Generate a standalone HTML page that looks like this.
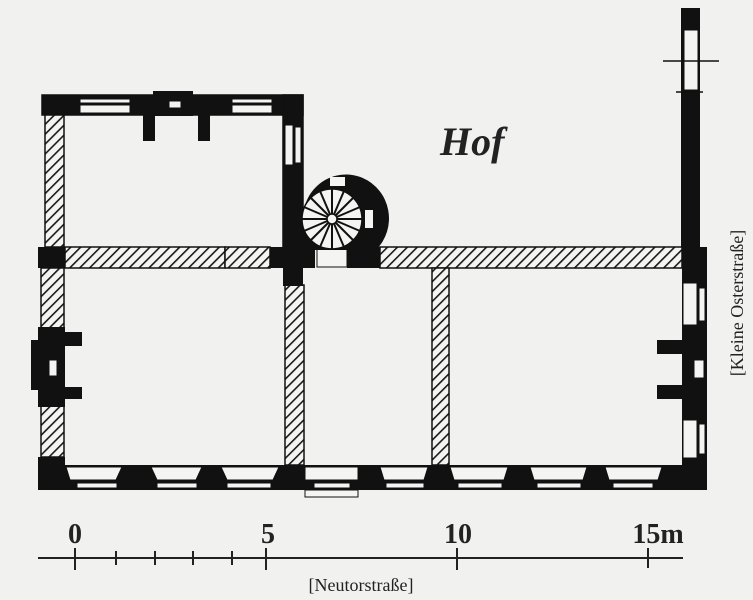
<!DOCTYPE html>
<html><head><meta charset="utf-8"><style>
html,body{margin:0;padding:0;background:#f1f1ef;}
svg{display:block}
</style></head><body>
<svg width="753" height="600" viewBox="0 0 753 600" xmlns="http://www.w3.org/2000/svg">
<defs>
<pattern id="h" patternUnits="userSpaceOnUse" width="7" height="7" patternTransform="rotate(45)">
<rect width="7" height="7" fill="#f4f4f2"/><rect x="0" y="0" width="1.6" height="7" fill="#1a1a1a"/>
</pattern>
</defs>
<rect width="753" height="600" fill="#f1f1ef"/>
<g stroke="#111" stroke-width="1.5">
<rect x="42" y="95" width="261" height="20" fill="#111"/>
<rect x="45" y="115" width="19" height="132" fill="url(#h)"/>
<rect x="283" y="95" width="20" height="152" fill="#111"/>
<rect x="65" y="247" width="160" height="21" fill="url(#h)"/>
<rect x="225" y="247" width="45" height="21" fill="url(#h)"/>
<rect x="380" y="247" width="302" height="21" fill="url(#h)"/>
<rect x="41" y="268" width="23" height="60" fill="url(#h)"/>
<rect x="41" y="405" width="23" height="52" fill="url(#h)"/>
<rect x="285" y="285" width="19" height="180" fill="url(#h)"/>
<rect x="432" y="268" width="17" height="197" fill="url(#h)"/>
</g>
<g fill="#111">
<rect x="38" y="247" width="27" height="21"/>
<rect x="270" y="247" width="45" height="21"/>
<rect x="283" y="268" width="20" height="18"/>
<rect x="347" y="247" width="33" height="21"/>
<rect x="38" y="327" width="27" height="80"/>
<rect x="31" y="340" width="10" height="50"/>
<rect x="64" y="332" width="18" height="14"/>
<rect x="64" y="387" width="18" height="12"/>
<rect x="38" y="457" width="27" height="33"/>
<rect x="38" y="465" width="669" height="25"/>
<rect x="681" y="8" width="19" height="239"/>
<rect x="682" y="247" width="25" height="243"/>
<rect x="657" y="340" width="26" height="14"/>
<rect x="657" y="385" width="26" height="14"/>
<rect x="153" y="91" width="40" height="25"/>
<rect x="143" y="110" width="12" height="31"/>
<rect x="198" y="110" width="12" height="31"/>
</g>
<g fill="#f4f4f2" stroke="#111" stroke-width="1">
<rect x="80" y="99" width="50" height="4"/><rect x="80" y="105" width="50" height="8"/>
<rect x="232" y="99" width="40" height="4"/><rect x="232" y="105" width="40" height="8"/>
<rect x="169" y="101" width="12" height="7"/>
<rect x="285" y="125" width="8" height="40"/><rect x="295" y="127" width="6" height="36"/>
<rect x="684" y="30" width="14" height="60"/>
<rect x="683" y="283" width="14" height="42"/><rect x="699" y="288" width="6" height="33"/>
<rect x="683" y="420" width="14" height="38"/><rect x="699" y="424" width="6" height="30"/>
<rect x="694" y="360" width="10" height="18"/>
<rect x="49" y="360" width="8" height="16"/>
<rect x="317" y="248" width="30" height="19"/>
<rect x="305" y="490" width="53" height="7"/>
</g>
<line x1="663" y1="61" x2="719" y2="61" stroke="#111" stroke-width="1.5"/>
<line x1="676" y1="92" x2="703" y2="92" stroke="#111" stroke-width="1.5"/>
<g fill="#f4f4f2" stroke="#111" stroke-width="1">
<path d="M66 467 H122 L116 480 H70 Z"/><rect x="77" y="483" width="40" height="5"/>
<path d="M151 467 H202 L196 480 H157 Z"/><rect x="157" y="483" width="40" height="5"/>
<path d="M221 467 H279 L273 480 H227 Z"/><rect x="227" y="483" width="44" height="5"/>
<path d="M305 467 H358 V480 H305 Z"/><rect x="314" y="483" width="36" height="5"/>
<path d="M380 467 H428 L424 480 H384 Z"/><rect x="386" y="483" width="38" height="5"/>
<path d="M450 467 H508 L504 480 H454 Z"/><rect x="458" y="483" width="44" height="5"/>
<path d="M530 467 H587 L583 480 H534 Z"/><rect x="537" y="483" width="44" height="5"/>
<path d="M605 467 H662 L658 480 H609 Z"/><rect x="613" y="483" width="40" height="5"/>
</g>
<path d="M303 219 A43 44 0 1 1 376 250 L303 250 Z" fill="#111"/>
<circle cx="332" cy="219" r="30" fill="#f4f4f2" stroke="#111" stroke-width="1.5"/>
<g stroke="#111" stroke-width="2">
<line x1="332" y1="189" x2="332" y2="249"/><line x1="302" y1="219" x2="362" y2="219"/>
<line x1="311" y1="198" x2="353" y2="240"/><line x1="353" y1="198" x2="311" y2="240"/>
<line x1="320" y1="191" x2="344" y2="247"/><line x1="344" y1="191" x2="320" y2="247"/>
<line x1="304" y1="207" x2="360" y2="231"/><line x1="304" y1="231" x2="360" y2="207"/>
</g>
<circle cx="332" cy="219" r="5" fill="#f4f4f2" stroke="#111" stroke-width="1.5"/>
<rect x="330" y="177" width="15" height="9" fill="#f4f4f2"/>
<rect x="365" y="210" width="8" height="18" fill="#f4f4f2"/>
<text x="440" y="155" font-family="Liberation Serif, serif" font-size="40" font-style="italic" font-weight="bold" fill="#222">Hof</text>
<g stroke="#222" stroke-width="2">
<line x1="38" y1="558" x2="683" y2="558"/>
<line x1="75" y1="548" x2="75" y2="570"/>
<line x1="266" y1="548" x2="266" y2="570"/>
<line x1="457" y1="548" x2="457" y2="570"/>
<line x1="648" y1="548" x2="648" y2="568"/>
<line x1="116" y1="551" x2="116" y2="565"/>
<line x1="155" y1="551" x2="155" y2="565"/>
<line x1="193" y1="551" x2="193" y2="565"/>
<line x1="232" y1="551" x2="232" y2="565"/>
</g>
<g font-family="Liberation Serif, serif" font-size="28" font-weight="bold" fill="#222" text-anchor="middle">
<text x="75" y="543">0</text><text x="268" y="543">5</text><text x="458" y="543">10</text><text x="658" y="543">15m</text>
</g>
<text x="361" y="591" font-family="Liberation Serif, serif" font-size="18" fill="#222" text-anchor="middle">[Neutorstraße]</text>
<text transform="translate(743,303) rotate(-90)" font-family="Liberation Serif, serif" font-size="18" fill="#222" text-anchor="middle">[Kleine Osterstraße]</text>
</svg>
</body></html>
